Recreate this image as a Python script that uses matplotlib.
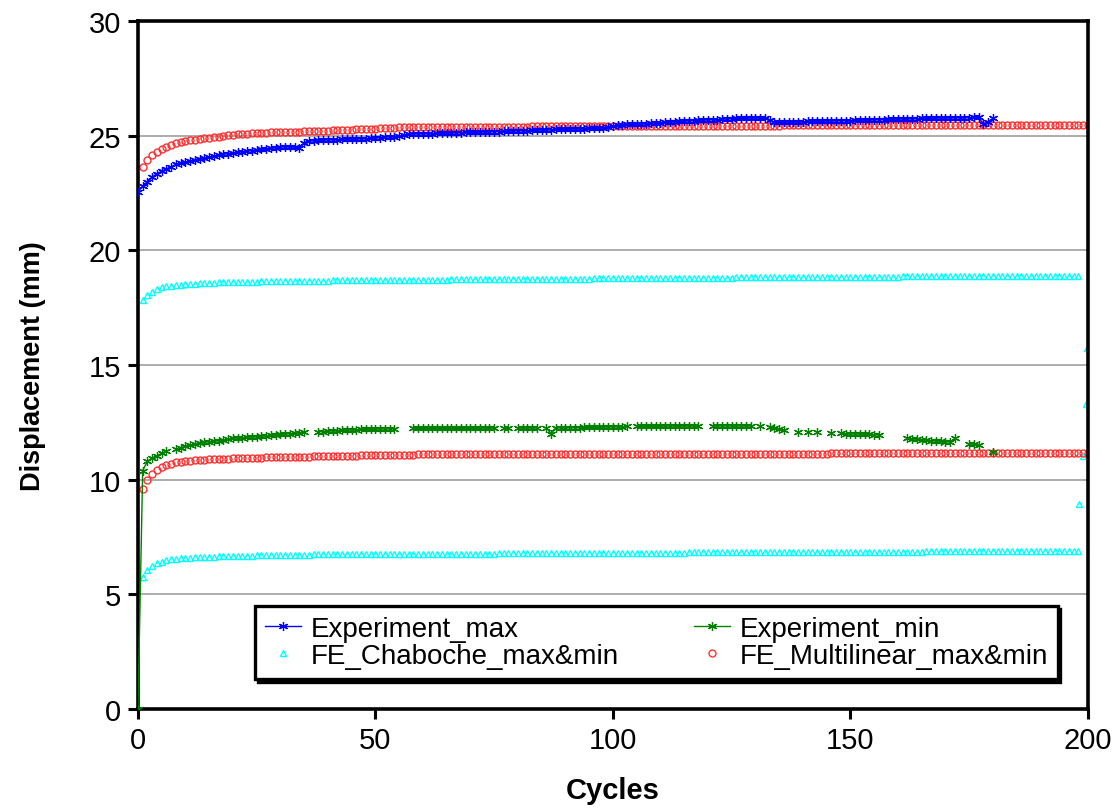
import numpy as np
import matplotlib
matplotlib.use("Agg")
import matplotlib.pyplot as plt

plt.rcParams['font.family'] = ['Liberation Sans', 'DejaVu Sans']

# ---------------- data ----------------
exp_cycles = list(range(0, 181))
exp_max = [
    22.55,
    22.80, 23.00, 23.20, 23.35, 23.45, 23.55, 23.65, 23.75, 23.80, 23.85,
    23.90, 23.95, 24.00, 24.02, 24.05, 24.10, 24.15, 24.20, 24.22, 24.25,
    24.30, 24.30, 24.33, 24.35, 24.38, 24.40, 24.42, 24.45, 24.47, 24.50,
    24.52, 24.50, 24.50, 24.48, 24.70, 24.78, 24.78, 24.80, 24.80, 24.82,
    24.82, 24.83, 24.84, 24.85, 24.85, 24.86, 24.86, 24.87, 24.88, 24.90,
    24.92, 24.94, 24.95, 24.96, 24.98, 25.02, 25.06, 25.08, 25.08, 25.08,
    25.08, 25.09, 25.10, 25.10, 25.11, 25.12, 25.12, 25.13, 25.14, 25.14,
    25.15, 25.16, 25.16, 25.17, 25.18, 25.18, 25.19, 25.20, 25.20, 25.21,
    25.22, 25.22, 25.23, 25.24, 25.25, 25.25, 25.26, 25.27, 25.27, 25.28,
    25.29, 25.30, 25.30, 25.31, 25.32, 25.32, 25.33, 25.35, 25.38, 25.42,
    25.45, 25.48, 25.50, 25.50, 25.50, 25.52, 25.53, 25.55, 25.56, 25.57,
    25.58, 25.58, 25.60, 25.62, 25.63, 25.65, 25.66, 25.67, 25.68, 25.69,
    25.70, 25.70, 25.72, 25.73, 25.74, 25.75, 25.75, 25.76, 25.77, 25.77,
    25.76, 25.75, 25.69, 25.58, 25.58, 25.59, 25.60, 25.60, 25.61, 25.61,
    25.62, 25.62, 25.63, 25.63, 25.64, 25.64, 25.65, 25.65, 25.66, 25.66,
    25.67, 25.67, 25.68, 25.68, 25.69, 25.70, 25.70, 25.71, 25.72, 25.72,
    25.73, 25.73, 25.74, 25.74, 25.75, 25.75, 25.76, 25.76, 25.77, 25.77,
    25.77, 25.78, 25.78, 25.79, 25.79, 25.80, 25.80, 25.50, 25.60, 25.75,
]
nan = np.nan
exp_min = [
    0.00,
    10.40, 10.80, 10.95, 11.05, 11.15, 11.25, nan, 11.34, 11.40, 11.45,
    11.50, 11.55, 11.60, 11.63, 11.66, 11.68, 11.70, 11.73, 11.76, 11.80,
    11.82, 11.83, 11.85, 11.86, 11.87, 11.89, 11.91, 11.93, 11.95, 11.97,
    11.99, 12.01, 12.03, 12.05, 12.06, nan, nan, 12.10, 12.10, 12.12,
    12.13, 12.14, 12.15, 12.16, 12.17, 12.18, 12.19, 12.20, 12.20, 12.21,
    12.21, 12.22, 12.22, 12.23, nan, nan, nan, 12.24, 12.24, 12.24,
    12.24, 12.24, 12.24, 12.24, 12.24, 12.24, 12.24, 12.24, 12.24, 12.24,
    12.24, 12.25, 12.25, 12.25, 12.25, nan, 12.25, 12.25, nan, 12.25,
    12.25, 12.25, 12.25, 12.25, nan, 12.25, 12.00, 12.26, 12.26, 12.26,
    12.27, 12.27, 12.27, 12.28, 12.28, 12.28, 12.29, 12.29, 12.30, 12.30,
    12.31, 12.31, 12.32, nan, 12.33, 12.33, 12.33, 12.33, 12.33, 12.33,
    12.34, 12.34, 12.34, 12.34, 12.34, 12.34, 12.34, 12.34, nan, nan,
    12.35, 12.35, 12.35, 12.35, 12.35, 12.35, 12.34, 12.34, 12.34, nan,
    12.33, nan, 12.30, 12.25, 12.20, 12.15, nan, nan, 12.10, nan,
    12.10, nan, 12.08, nan, nan, 12.05, nan, 12.02, 12.01, 12.00,
    12.00, 11.99, 11.98, 11.97, 11.96, 11.95, nan, nan, nan, nan,
    nan, 11.80, 11.78, 11.76, 11.74, 11.72, 11.70, 11.69, 11.67, 11.66,
    11.65, 11.80, nan, nan, 11.55, 11.55, 11.50, nan, nan, 11.20,
]

fe_cycles = list(range(1, 201))
multi_max = [
    23.62, 23.95, 24.15, 24.30, 24.42, 24.52, 24.60, 24.66, 24.71, 24.75,
    24.79, 24.82, 24.85, 24.88, 24.90, 24.93, 24.96, 24.99, 25.02, 25.05,
    25.07, 25.08, 25.09, 25.10, 25.11, 25.12, 25.13, 25.14, 25.15, 25.16,
    25.17, 25.17, 25.18, 25.18, 25.19, 25.20, 25.20, 25.21, 25.22, 25.22,
    25.23, 25.24, 25.24, 25.25, 25.26, 25.27, 25.28, 25.29, 25.30, 25.31,
    25.32, 25.33, 25.34, 25.35, 25.36, 25.36, 25.37, 25.37, 25.37, 25.37,
    25.37, 25.37, 25.37, 25.37, 25.37, 25.38, 25.38, 25.38, 25.38, 25.38,
    25.38, 25.38, 25.38, 25.38, 25.39, 25.39, 25.39, 25.39, 25.39, 25.39,
    25.39, 25.39, 25.40, 25.40, 25.40, 25.40, 25.40, 25.40, 25.40, 25.40,
    25.41, 25.41, 25.41, 25.41, 25.41, 25.41, 25.41, 25.42, 25.42, 25.42,
    25.42, 25.42, 25.42, 25.42, 25.42, 25.43, 25.43, 25.43, 25.43, 25.43,
    25.43, 25.43, 25.43, 25.43, 25.43, 25.44, 25.44, 25.44, 25.44, 25.44,
    25.44, 25.44, 25.44, 25.44, 25.44, 25.44, 25.44, 25.44, 25.44, 25.44,
    25.44, 25.44, 25.44, 25.44, 25.44, 25.45, 25.45, 25.45, 25.45, 25.45,
    25.45, 25.45, 25.45, 25.45, 25.45, 25.45, 25.45, 25.45, 25.45, 25.45,
    25.45, 25.45, 25.45, 25.45, 25.45, 25.46, 25.46, 25.46, 25.46, 25.46,
    25.46, 25.46, 25.46, 25.46, 25.46, 25.46, 25.46, 25.46, 25.46, 25.46,
    25.46, 25.46, 25.46, 25.46, 25.46, 25.47, 25.47, 25.47, 25.47, 25.47,
    25.47, 25.47, 25.47, 25.47, 25.47, 25.47, 25.47, 25.47, 25.47, 25.47,
    25.47, 25.47, 25.47, 25.47, 25.47, 25.48, 25.48, 25.48, 25.48, 25.48,
]
multi_min = [
    9.60, 10.00, 10.25, 10.42, 10.55, 10.64, 10.70, 10.75, 10.78, 10.81,
    10.83, 10.85, 10.86, 10.87, 10.88, 10.89, 10.90, 10.91, 10.92, 10.93,
    10.94, 10.94, 10.95, 10.95, 10.96, 10.96, 10.97, 10.97, 10.98, 10.98,
    10.99, 10.99, 11.00, 11.00, 11.01, 11.01, 11.02, 11.02, 11.03, 11.03,
    11.04, 11.04, 11.04, 11.05, 11.05, 11.05, 11.06, 11.06, 11.06, 11.07,
    11.07, 11.07, 11.08, 11.08, 11.08, 11.09, 11.09, 11.09, 11.10, 11.10,
    11.10, 11.10, 11.10, 11.10, 11.10, 11.11, 11.11, 11.11, 11.11, 11.11,
    11.11, 11.11, 11.11, 11.11, 11.11, 11.12, 11.12, 11.12, 11.12, 11.12,
    11.12, 11.12, 11.12, 11.12, 11.12, 11.12, 11.12, 11.12, 11.12, 11.12,
    11.12, 11.12, 11.12, 11.12, 11.12, 11.13, 11.13, 11.13, 11.13, 11.13,
    11.13, 11.13, 11.13, 11.13, 11.13, 11.13, 11.13, 11.13, 11.13, 11.13,
    11.13, 11.13, 11.13, 11.13, 11.13, 11.14, 11.14, 11.14, 11.14, 11.14,
    11.14, 11.14, 11.14, 11.14, 11.14, 11.14, 11.14, 11.14, 11.14, 11.14,
    11.14, 11.14, 11.14, 11.14, 11.14, 11.14, 11.14, 11.14, 11.14, 11.14,
    11.14, 11.14, 11.14, 11.14, 11.14, 11.15, 11.15, 11.15, 11.15, 11.15,
    11.15, 11.15, 11.15, 11.15, 11.15, 11.15, 11.15, 11.15, 11.15, 11.15,
    11.15, 11.15, 11.15, 11.15, 11.15, 11.15, 11.15, 11.15, 11.15, 11.15,
    11.15, 11.15, 11.15, 11.15, 11.15, 11.16, 11.16, 11.16, 11.16, 11.16,
    11.16, 11.16, 11.16, 11.16, 11.16, 11.16, 11.16, 11.16, 11.16, 11.16,
    11.16, 11.16, 11.16, 11.16, 11.16, 11.16, 11.16, 11.16, 11.16, 11.16,
]

chab_cycles = list(range(1, 199))
chab_max = [
    17.85, 18.05, 18.20, 18.30, 18.38, 18.43, 18.46, 18.49, 18.51, 18.53,
    18.54, 18.55, 18.56, 18.57, 18.58, 18.59, 18.60, 18.61, 18.62, 18.63,
    18.63, 18.63, 18.64, 18.64, 18.64, 18.65, 18.65, 18.65, 18.66, 18.66,
    18.66, 18.66, 18.67, 18.67, 18.67, 18.67, 18.68, 18.68, 18.68, 18.68,
    18.69, 18.69, 18.69, 18.69, 18.69, 18.70, 18.70, 18.70, 18.70, 18.70,
    18.71, 18.71, 18.71, 18.71, 18.71, 18.72, 18.72, 18.72, 18.72, 18.72,
    18.72, 18.72, 18.72, 18.72, 18.72, 18.73, 18.73, 18.73, 18.73, 18.73,
    18.74, 18.74, 18.74, 18.74, 18.74, 18.75, 18.75, 18.75, 18.75, 18.75,
    18.75, 18.75, 18.75, 18.75, 18.75, 18.76, 18.76, 18.76, 18.76, 18.76,
    18.77, 18.77, 18.77, 18.77, 18.77, 18.78, 18.78, 18.78, 18.78, 18.78,
    18.78, 18.78, 18.78, 18.78, 18.78, 18.79, 18.79, 18.79, 18.79, 18.79,
    18.80, 18.80, 18.80, 18.80, 18.80, 18.80, 18.80, 18.80, 18.80, 18.80,
    18.81, 18.81, 18.81, 18.81, 18.81, 18.82, 18.82, 18.82, 18.82, 18.82,
    18.82, 18.82, 18.82, 18.82, 18.82, 18.83, 18.83, 18.83, 18.83, 18.83,
    18.83, 18.83, 18.83, 18.83, 18.83, 18.84, 18.84, 18.84, 18.84, 18.84,
    18.85, 18.85, 18.85, 18.85, 18.85, 18.85, 18.85, 18.85, 18.85, 18.85,
    18.86, 18.86, 18.86, 18.86, 18.86, 18.86, 18.86, 18.86, 18.86, 18.86,
    18.87, 18.87, 18.87, 18.87, 18.87, 18.87, 18.87, 18.87, 18.87, 18.87,
    18.88, 18.88, 18.88, 18.88, 18.88, 18.89, 18.89, 18.89, 18.89, 18.89,
    18.89, 18.89, 18.89, 18.89, 18.90, 18.90, 18.90, 18.90,
]
chab_min = [
    5.75, 6.05, 6.25, 6.35, 6.43, 6.48, 6.52, 6.55, 6.57, 6.59,
    6.60, 6.61, 6.62, 6.63, 6.64, 6.65, 6.66, 6.66, 6.67, 6.67,
    6.68, 6.68, 6.69, 6.69, 6.70, 6.70, 6.70, 6.71, 6.71, 6.71,
    6.72, 6.72, 6.72, 6.73, 6.73, 6.73, 6.74, 6.74, 6.74, 6.75,
    6.75, 6.75, 6.75, 6.75, 6.75, 6.76, 6.76, 6.76, 6.76, 6.76,
    6.76, 6.76, 6.76, 6.76, 6.76, 6.77, 6.77, 6.77, 6.77, 6.77,
    6.77, 6.77, 6.77, 6.77, 6.77, 6.78, 6.78, 6.78, 6.78, 6.78,
    6.78, 6.78, 6.78, 6.78, 6.78, 6.79, 6.79, 6.79, 6.79, 6.79,
    6.79, 6.79, 6.79, 6.79, 6.79, 6.80, 6.80, 6.80, 6.80, 6.80,
    6.80, 6.80, 6.80, 6.80, 6.80, 6.81, 6.81, 6.81, 6.81, 6.81,
    6.81, 6.81, 6.81, 6.81, 6.81, 6.82, 6.82, 6.82, 6.82, 6.82,
    6.82, 6.82, 6.82, 6.82, 6.82, 6.83, 6.83, 6.83, 6.83, 6.83,
    6.83, 6.83, 6.83, 6.83, 6.83, 6.84, 6.84, 6.84, 6.84, 6.84,
    6.84, 6.84, 6.84, 6.84, 6.84, 6.85, 6.85, 6.85, 6.85, 6.85,
    6.85, 6.85, 6.85, 6.85, 6.85, 6.85, 6.85, 6.85, 6.85, 6.85,
    6.86, 6.86, 6.86, 6.86, 6.86, 6.86, 6.86, 6.86, 6.86, 6.86,
    6.86, 6.86, 6.86, 6.86, 6.86, 6.87, 6.87, 6.87, 6.87, 6.87,
    6.87, 6.87, 6.87, 6.87, 6.87, 6.87, 6.87, 6.87, 6.87, 6.87,
    6.88, 6.88, 6.88, 6.88, 6.88, 6.88, 6.88, 6.88, 6.88, 6.88,
    6.88, 6.88, 6.88, 6.88, 6.88, 6.88, 6.88, 6.88,
]
# last-cycle unloading points of the Chaboche model
chab_end_cycles = [198.2, 198.9, 199.5, 199.9]
chab_end_vals = [8.94, 11.05, 13.30, 15.75]

labels = ["Experiment_max", "Experiment_min",
          "FE_Chaboche_max&min", "FE_Multilinear_max&min"]
x_ticks = [0, 50, 100, 150, 200]
y_ticks = [0, 5, 10, 15, 20, 25, 30]

# ---------------- figure ----------------
fig = plt.figure(figsize=(11.17, 8.12), dpi=100)
ax = fig.add_axes([0.1235, 0.1256, 0.8505, 0.8473])

for yv in y_ticks[1:-1]:
    ax.axhline(yv, color="#a6a6a6", lw=1.3, zorder=0)

star = (6, 2, 0)
h_emax, = ax.plot(exp_cycles, exp_max, color="#0000ff", lw=1.0, marker=star,
                  ms=6.5, mew=0.9, label=labels[0], zorder=3)
h_emin, = ax.plot(exp_cycles, exp_min, color="#008000", lw=1.0, marker=star,
                  ms=6.5, mew=0.9, label=labels[1], zorder=3)
h_chab, = ax.plot(chab_cycles, chab_max, ls="none", marker="^", ms=5,
                  mfc="none", mec="#00ffff", mew=1.0, label=labels[2], zorder=2)
ax.plot(chab_cycles, chab_min, ls="none", marker="^", ms=5,
        mfc="none", mec="#00ffff", mew=1.0, zorder=2)
ax.plot(chab_end_cycles, chab_end_vals, ls="none", marker="^", ms=5,
        mfc="none", mec="#00ffff", mew=1.0, zorder=2)
h_multi, = ax.plot(fe_cycles, multi_max, ls="none", marker="o", ms=5,
                   mfc="none", mec="#ff3030", mew=1.0, label=labels[3], zorder=2)
ax.plot(fe_cycles, multi_min, ls="none", marker="o", ms=5,
        mfc="none", mec="#ff3030", mew=1.0, zorder=2)

ax.set_xlim(0, 200)
ax.set_ylim(0, 30)
ax.set_xticks(x_ticks)
ax.set_yticks(y_ticks)
ax.tick_params(axis="both", direction="out", length=7, width=2.2,
               labelsize=21, pad=5)
for s in ax.spines.values():
    s.set_linewidth(2.6)
    s.set_color("black")

ax.set_ylabel("Displacement (mm)", fontsize=19.5, fontweight="bold")
ax.set_xlabel("Cycles", fontsize=21, fontweight="bold")
ax.yaxis.set_label_coords(-0.097, 0.5)
ax.xaxis.set_label_coords(0.5, -0.098)

leg = ax.legend([h_emax, h_chab, h_emin, h_multi],
                [labels[0], labels[2], labels[1], labels[3]],
                ncol=2, loc="lower left",
                bbox_to_anchor=(0.123, 0.044, 0.845, 0.106), mode="expand",
                borderaxespad=0.0,
                fontsize=20, numpoints=1, handlelength=1.3, handletextpad=0.35,
                labelspacing=0.05, borderpad=0.35, fancybox=False,
                shadow={"color": "black", "alpha": 1.0}, framealpha=1,
                edgecolor="black")
leg.get_frame().set_linewidth(2.4)

fig.savefig("out.png", dpi=100)
